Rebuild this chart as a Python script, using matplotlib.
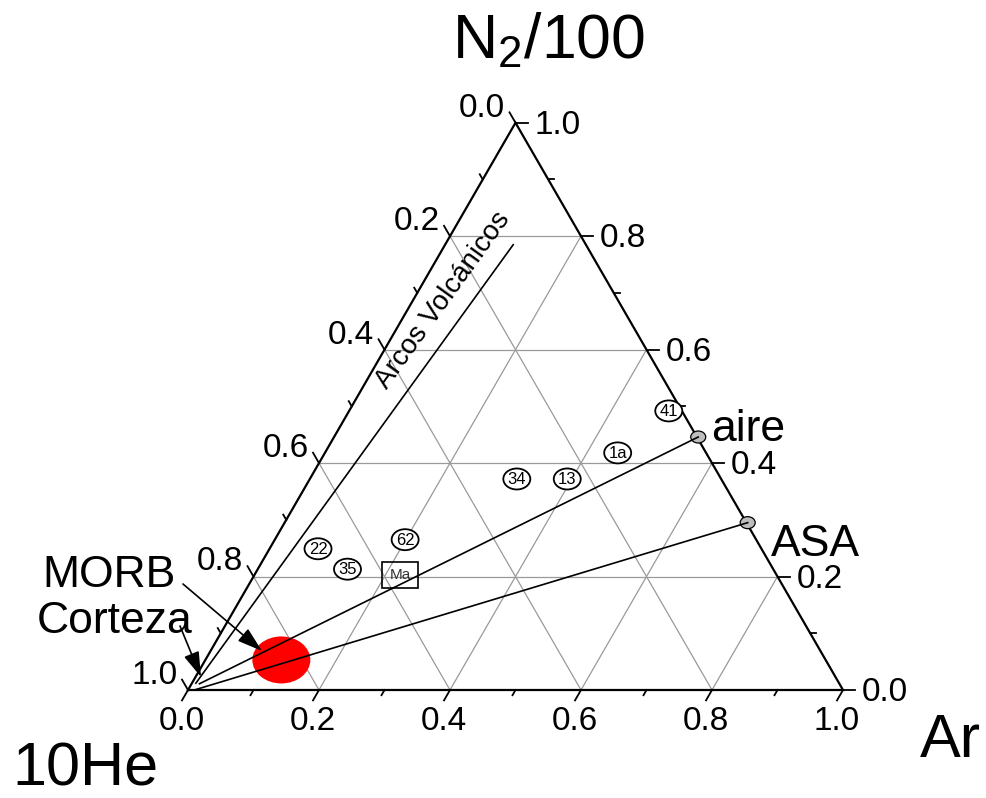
import numpy as np
import matplotlib
matplotlib.use('Agg')
import matplotlib.pyplot as plt
from matplotlib.patches import Ellipse, Rectangle

plt.rcParams['font.family'] = ['Liberation Sans', 'DejaVu Sans']
plt.rcParams['mathtext.fontset'] = 'custom'
plt.rcParams['mathtext.rm'] = 'Liberation Sans'
plt.rcParams['mathtext.it'] = 'Liberation Sans:italic'

# muestras: fraccion de Ar y de N2/100 (10He es el resto)
muestras = ['41', '1a', '34', '13', '62', '22', '35']
ar_m = [0.488, 0.447, 0.316, 0.393, 0.199, 0.074, 0.137]
n2_m = [0.492, 0.418, 0.372, 0.372, 0.265, 0.249, 0.213]

ma_nombre = 'Ma'
ma_ar = 0.222
ma_n2 = 0.203

# aire y ASA, con el origen de sus lineas de mezcla
ref_nombres = ['aire', 'ASA']
ref_ar = [0.556, 0.707]
ref_n2 = [0.446, 0.295]
ref_ini_ar = [0.012, 0.012]
ref_ini_n2 = [0.011, 0.001]

morb_ar = 0.116
morb_n2 = 0.053

arcos_ar = [0.006, 0.104]
arcos_n2 = [0.012, 0.785]

ticks = [0.0, 0.2, 0.4, 0.6, 0.8, 1.0]
minors = [0.1, 0.3, 0.5, 0.7, 0.9]
grid = [0.2, 0.4, 0.6, 0.8]

H = np.sqrt(3) / 2
S = 655.0  # lado del triangulo en pixeles


def tern(ar, n2):
    ar = np.asarray(ar, float)
    n2 = np.asarray(n2, float)
    return ar + n2 / 2, n2 * H


def px(x, y):
    # pixel de la imagen -> coordenadas del eje
    return (x - 188) / S, (690 - y) / S


fig = plt.figure(figsize=(9.87, 7.98), dpi=100)
ax = fig.add_axes([0, 0, 1, 1])
ax.set_xlim(-188 / S, (987 - 188) / S)
ax.set_ylim(-(798 - 690) / S, 690 / S)
ax.axis('off')

# rejilla
gc = '#9a9a9a'
for g in grid:
    for a, b in [((g, 0), (g, 1 - g)), ((0, g), (1 - g, g)), ((1 - g, 0), (0, 1 - g))]:
        x, y = tern([a[0], b[0]], [a[1], b[1]])
        ax.plot(x, y, color=gc, lw=0.9, zorder=1)

# bordes
x, y = tern([0, 1, 0, 0], [0, 0, 1, 0])
ax.plot(x, y, color='k', lw=1.6, zorder=3, solid_joinstyle='miter')

# marcas y etiquetas
big = 12 / S
small = 6 / S
for t in ticks + minors:
    L = big if t in ticks else small
    # Ar (abajo)
    x0, y0 = tern(t, 0)
    ax.plot([x0, x0 - 0.5 * L], [y0, y0 - H * L], color='k', lw=1.3, zorder=3)
    # N2 (derecha)
    x0, y0 = tern(1 - t, t)
    ax.plot([x0, x0 + L], [y0, y0], color='k', lw=1.3, zorder=3)
    # He (izquierda)
    x0, y0 = tern(0, 1 - t)
    ax.plot([x0, x0 - 0.5 * L], [y0, y0 + H * L], color='k', lw=1.3, zorder=3)

for t in ticks:
    lab = '%.1f' % t
    x0, y0 = tern(t, 0)
    ax.annotate(lab, (x0 - 0.5 * big, y0 - H * big), xytext=(0, -4), textcoords='offset points',
                ha='center', va='top', fontsize=24)
    x0, y0 = tern(1 - t, t)
    ax.annotate(lab, (x0 + big, y0), xytext=(5, -2), textcoords='offset points',
                ha='left', va='center', fontsize=24)
    x0, y0 = tern(0, 1 - t)
    ax.annotate(lab, (x0 - 0.5 * big, y0 + H * big), xytext=(-3, 3), textcoords='offset points',
                ha='right', va='center', fontsize=24)

# arcos volcanicos
x, y = tern(arcos_ar, arcos_n2)
ax.plot(x, y, color='k', lw=1.2, zorder=4)
ax.text(*px(443, 300), 'Arcos Volcánicos', rotation=54.2, ha='center', va='center',
        fontsize=20, rotation_mode='anchor', zorder=5)

# MORB
mx, my = tern(morb_ar, morb_n2)
ax.add_patch(Ellipse((float(mx), float(my)), 58 / S, 47 / S, facecolor='#ff0000',
                     edgecolor='none', zorder=2))

# lineas de mezcla con aire y ASA
for i in range(len(ref_nombres)):
    x, y = tern([ref_ini_ar[i], ref_ar[i]], [ref_ini_n2[i], ref_n2[i]])
    ax.plot(x, y, color='k', lw=1.2, zorder=6)
    ax.add_patch(Ellipse((float(x[1]), float(y[1])), 15 / S, 12 / S, facecolor='#bdbdbd',
                         edgecolor='k', lw=0.9, zorder=5))
off = [(9, -3), (17, -24)]
for i, nom in enumerate(ref_nombres):
    x0, y0 = tern(ref_ar[i], ref_n2[i])
    ax.annotate(nom, (x0, y0), xytext=off[i], textcoords='offset points',
                ha='left', va='baseline', fontsize=32)

# muestras
xs, ys = tern(ar_m, n2_m)
for nom, x0, y0 in zip(muestras, xs, ys):
    ax.add_patch(Ellipse((x0, y0), 27 / S, 21 / S, facecolor='white', edgecolor='k',
                         lw=1.3, zorder=7))
    ax.text(x0, y0 - 0.5 / S, nom, ha='center', va='center', fontsize=12, zorder=8)

x0, y0 = tern(ma_ar, ma_n2)
ax.add_patch(Rectangle((x0 - 18 / S, y0 - 13 / S), 36 / S, 26 / S, facecolor='none',
                       edgecolor='k', lw=1.2, zorder=7))
ax.text(x0, y0, ma_nombre, ha='center', va='center', fontsize=11, color='#333333', zorder=8)

# MORB / Corteza
ax.text(*px(176, 587), 'MORB', ha='right', va='baseline', fontsize=32)
ax.text(*px(192, 633), 'Corteza', ha='right', va='baseline', fontsize=32)
ap = dict(arrowstyle='-|>,head_length=0.7,head_width=0.22', color='k', lw=1.2,
          mutation_scale=22, shrinkA=0, shrinkB=0)
ax.annotate('', xy=px(262, 651), xytext=px(183, 584), arrowprops=ap, zorder=9)
ax.annotate('', xy=px(201, 677), xytext=px(180, 626), arrowprops=ap, zorder=9)

# titulos de los vertices
fig.text(548 / 987, 1 - 58 / 798, r'N$_{2}$/100', ha='center', va='baseline', fontsize=45)
fig.text(12 / 987, 1 - 785 / 798, '10He', ha='left', va='baseline', fontsize=44)
fig.text(920 / 987, 1 - 757 / 798, 'Ar', ha='left', va='baseline', fontsize=44)

fig.savefig('out.png', dpi=100, facecolor='white')
